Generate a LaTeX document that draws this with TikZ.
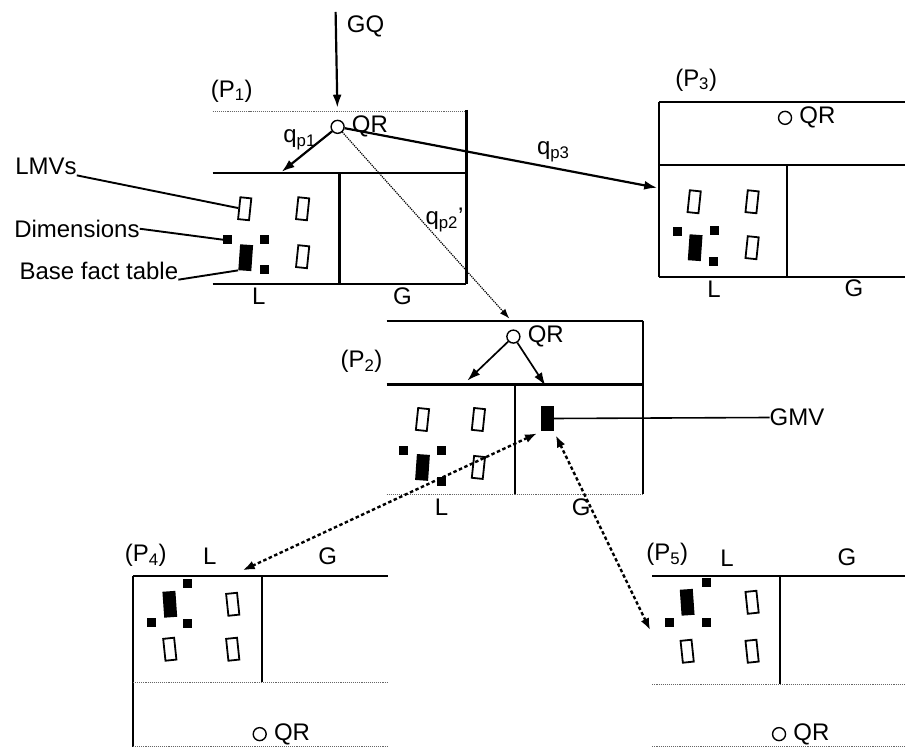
\documentclass[tikz,border=0pt]{standalone}
\usepackage{fontspec}
\setmainfont{Liberation Sans}
\usetikzlibrary{arrows.meta, positioning}
\colorlet{FaintLine}{black!60}

\begin{document}
\begin{tikzpicture}[
    x=1pt, y=-1pt,
    partline/.style={line width=2.2pt, black},
    faint/.style={densely dotted, line width=1.1pt, FaintLine},
    lbl/.style={font=\fontsize{24}{26}\selectfont, inner sep=0pt},
    qr/.style={
        circle, draw, line width=1.4pt, minimum size=13pt, inner sep=0pt
    },
    lmv/.style={
        rectangle, draw, line width=1.8pt, minimum width=11pt,
        minimum height=22pt, inner sep=0pt, rotate=#1
    },
    lmv/.default={-6},
    bft/.style={
        rectangle, fill=black, minimum width=13pt,
        minimum height=26pt, inner sep=0pt, rotate=#1
    },
    bft/.default={-4},
    dimsq/.style={rectangle, fill=black, minimum size=9pt, inner sep=0pt},
    arr/.style={-{Latex[length=13pt, width=9pt]}, line width=2.2pt},
    qarr/.style={-{Latex[length=10pt, width=7pt]}, densely dotted,
        line width=1.2pt},
    link/.style={
        {Latex[length=12pt, width=9pt]}-{Latex[length=12pt, width=9pt]},
        dash pattern=on 3.5pt off 2.5pt, line width=2.4pt, shorten <=4pt
    },
    note/.style={line width=1.9pt},
    node distance=7pt
]

\fill[white] (0,0) rectangle (906,748);

% ===================================================================
% P1: entry peer
% ===================================================================
\draw[faint] (213,112) -- (467,112);
\draw[partline] (467,110) -- (467,284);
\draw[partline] (213,173) -- (467,173);
\draw[partline] (213,284) -- (467,284);
\draw[partline] (340,173) -- (340,284);

\node[lbl] (p1name) at (232,91) {(P\textsubscript{1})};
\node[lbl] (p1L) at (259,297) {L};
\node[lbl] (p1G) at (403,297) {G};

\node[qr] (qr1) at (338,127) {};
\node[lbl, right=7pt of qr1] (qr1txt) {QR};

\node[lmv] (p1lmvA) at (245,209) {};
\node[lmv] (p1lmvB) at (303,209) {};
\node[lmv] (p1lmvC) at (303,257) {};
\node[bft] (p1bft) at (246,258) {};
\node[dimsq] (p1dimA) at (228,240) {};
\node[dimsq] (p1dimB) at (265,240) {};
\node[dimsq] (p1dimC) at (265,270) {};

% legend
\node[lbl] (lmvs) at (46,167) {LMVs};
\node[lbl] (dims) at (77,229) {Dimensions};
\node[lbl] (bftlbl) at (99,271) {Base fact table};
\draw[note] (lmvs.south east) -- (p1lmvA.west);
\draw[note] (dims.east) -- (p1dimA.west);
\draw[note] (bftlbl.south east) -- (p1bft.south west);

% global query
\coordinate (gqtop) at (336,12);
\node[lbl] (gq) at (366,26) {GQ};
\draw[arr, shorten >=12pt] (gqtop) -- (qr1.north);

% ===================================================================
% Query parts sent out of P1
% ===================================================================
\coordinate (p1Lin) at (282,172);
\draw[arr] (qr1) -- (p1Lin);
\node[lbl] (qp1) at (300,140) {q\textsubscript{p1}};

\coordinate (p3in) at (658,188);
\draw[arr] (qr1) -- (p3in);
\node[lbl] (qp3) at (554,152) {q\textsubscript{p3}};

\coordinate (p2in) at (510,319);
\draw[qarr] (qr1) -- (p2in);
\node[lbl] (qp2) at (445,220) {q\textsubscript{p2}'};

% ===================================================================
% P3
% ===================================================================
\draw[partline] (660,102) -- (906,102);
\draw[partline] (660,102) -- (660,277);
\draw[partline] (660,165) -- (906,165);
\draw[partline] (660,277) -- (906,277);
\draw[partline] (788,165) -- (788,277);

\node[lbl] (p3name) at (697,80) {(P\textsubscript{3})};
\node[lbl] (p3L) at (715,290) {L};
\node[lbl] (p3G) at (855,289) {G};

\node[qr] (qr3) at (786,118) {};
\node[lbl, right=7pt of qr3] (qr3txt) {QR};

\node[lmv] (p3lmvA) at (695,202) {};
\node[lmv] (p3lmvB) at (753,202) {};
\node[lmv] (p3lmvC) at (753,248) {};
\node[bft] (p3bft) at (696,248) {};
\node[dimsq] (p3dimA) at (678,232) {};
\node[dimsq] (p3dimB) at (715,231) {};
\node[dimsq] (p3dimC) at (714,262) {};

% ===================================================================
% P2: holds the GMV
% ===================================================================
\draw[partline] (387,321) -- (644,321);
\draw[partline] (644,321) -- (644,495);
\draw[partline] (387,385) -- (644,385);
\draw[partline] (516,385) -- (516,495);
\draw[faint] (387,495) -- (644,495);

\node[lbl] (p2name) at (362,362) {(P\textsubscript{2})};
\node[lbl] (p2L) at (442,508) {L};
\node[lbl] (p2G) at (582,508) {G};

\node[qr] (qr2) at (514,337) {};
\node[lbl, right=7pt of qr2] (qr2txt) {QR};

\coordinate (p2Lin) at (468,381);
\coordinate (p2Gin) at (546,386);
\draw[arr, line width=1.7pt] (qr2) -- (p2Lin);
\draw[arr, line width=1.7pt] (qr2) -- (p2Gin);

\node[lmv] (p2lmvA) at (423,420) {};
\node[lmv] (p2lmvB) at (479,420) {};
\node[lmv] (p2lmvC) at (479,468) {};
\node[bft] (p2bft) at (423,468) {};
\node[dimsq] (p2dimA) at (404,451) {};
\node[dimsq] (p2dimB) at (442,451) {};
\node[dimsq] (p2dimC) at (442,482) {};

\node[bft=0] (gmv) at (548,419) {};
\node[lbl] (gmvlbl) at (798,418) {GMV};
\draw[note, line width=1.6pt] (gmv.east) -- (gmvlbl.west);

% ===================================================================
% P4 and P5: GMV shared over dotted links
% ===================================================================
\draw[partline] (133,577) -- (388,577);
\draw[partline] (133,577) -- (133,748);
\draw[partline] (262,577) -- (262,683);
\draw[faint] (133,683) -- (388,683);
\draw[faint] (133,747) -- (388,747);

\node[lbl] (p4name) at (146,556) {(P\textsubscript{4})};
\node[lbl] (p4L) at (210,557) {L};
\node[lbl] (p4G) at (328,557) {G};

\node[qr] (qr4) at (260,735) {};
\node[lbl, right=7pt of qr4] (qr4txt) {QR};

\node[bft=4] (p4bft) at (170,605) {};
\node[dimsq] (p4dimA) at (188,584) {};
\node[dimsq] (p4dimB) at (152,623) {};
\node[dimsq] (p4dimC) at (188,624) {};
\node[lmv=6] (p4lmvA) at (233,605) {};
\node[lmv=6] (p4lmvB) at (170,650) {};
\node[lmv=6] (p4lmvC) at (233,650) {};

\draw[partline] (653,577) -- (906,577);
\draw[partline] (781,577) -- (781,685);
\draw[faint] (653,685) -- (906,685);
\draw[faint] (653,747) -- (906,747);

\node[lbl] (p5name) at (668,555) {(P\textsubscript{5})};
\node[lbl] (p5L) at (728,559) {L};
\node[lbl] (p5G) at (848,558) {G};

\node[qr] (qr5) at (780,735) {};
\node[lbl, right=7pt of qr5] (qr5txt) {QR};

\node[bft=4] (p5bft) at (688,603) {};
\node[dimsq] (p5dimA) at (707,583) {};
\node[dimsq] (p5dimB) at (670,623) {};
\node[dimsq] (p5dimC) at (707,623) {};
\node[lmv=6] (p5lmvA) at (753,603) {};
\node[lmv=6] (p5lmvB) at (688,652) {};
\node[lmv=6] (p5lmvC) at (753,652) {};

\coordinate (p4in) at (243,571);
\coordinate (p5in) at (651,631);
\draw[link] (gmv.south west) -- (p4in);
\draw[link] (gmv.south east) -- (p5in);

\end{tikzpicture}
\end{document}
